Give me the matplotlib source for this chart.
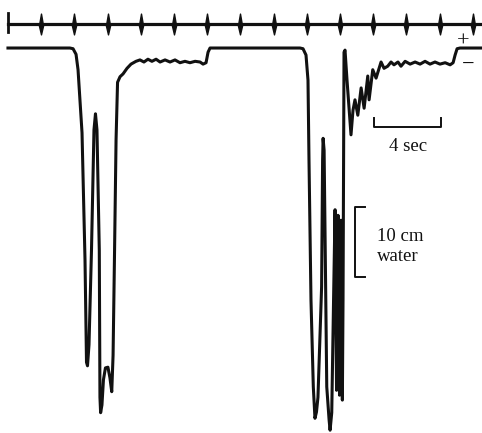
import numpy as np
import matplotlib
matplotlib.use("Agg")
import matplotlib.pyplot as plt
from matplotlib.path import Path

# pressure trace, time in s, pressure in cm water (0 = resting level)
t1 = [0, 3.73, 3.92, 4.10, 4.22, 4.46, 4.64, 4.73, 4.79, 4.88, 5.03, 5.18, 5.27, 5.36,
      5.50, 5.54, 5.58, 5.66, 5.75, 5.87, 6.02, 6.14, 6.25, 6.33, 6.42, 6.51, 6.60, 6.75,
      6.93, 7.17, 7.41, 7.71, 7.95, 8.19, 8.43, 8.67, 8.92, 9.16, 9.46, 9.76, 10.06, 10.36,
      10.66, 10.96, 11.27, 11.57, 11.75, 11.93, 12.05, 12.17]
p1 = [0, 0, -0.1, -0.9, -3.1, -12.1, -30.3, -44.9, -45.4, -42.4, -28.9, -11.7, -9.4, -11.7,
      -28.9, -49.9, -52.1, -51.0, -47.4, -45.7, -45.6, -47.1, -49.1, -43.9, -28.9, -13.1, -4.9, -4.1,
      -3.7, -2.9, -2.3, -1.9, -1.7, -2.0, -1.6, -1.9, -1.6, -2.0, -1.7, -2.0, -1.7, -2.1,
      -1.9, -2.1, -1.9, -2.0, -2.3, -2.1, -0.6, 0]

t2 = [17.59, 17.77, 17.95, 18.07, 18.13, 18.25, 18.39, 18.49, 18.58, 18.67, 18.89, 18.95, 18.98,
      19.04, 19.20, 19.34, 19.40, 19.50, 19.61, 19.70, 19.79, 19.88, 19.97, 20.06, 20.14, 20.18,
      20.24, 20.30, 20.42, 20.66, 20.78, 20.90, 21.07, 21.27, 21.45, 21.67, 21.75, 21.97, 22.17,
      22.47, 22.65, 22.87, 23.07, 23.25, 23.49, 23.67, 23.92, 24.22, 24.52, 24.82, 25.12, 25.42,
      25.72, 26.02, 26.33, 26.63, 26.81, 26.93, 27.05, 27.23, 28.6]
p2 = [0, -0.1, -1.0, -4.6, -16, -36, -48.4, -52.9, -52, -49.9, -34.1, -16, -12.9,
      -14.6, -48.4, -53.1, -54.6, -52.1, -36, -23.1, -48.9, -23.9, -49.6, -24.6, -50.3, -36,
      -0.6, -0.3, -4.6, -12.4, -8.9, -7.4, -9.6, -5.7, -8.6, -4.0, -7.4, -3.1, -4.3,
      -2.0, -2.9, -2.6, -2.0, -2.4, -2.0, -2.6, -1.9, -2.3, -2.0, -2.3, -1.9, -2.3,
      -2.0, -2.3, -2.1, -2.4, -2.1, -1.0, -0.1, 0, 0]

time_marks = np.arange(2, 30, 2)   # s
timeline_level = 3.43
scale_sec = [22.07, 26.07]
scale_cm = [-22.7, -32.7]

fig = plt.figure(figsize=(4.82, 4.33), dpi=100)
ax = fig.add_axes([0, 0, 1, 1])
ax.set_xlim(-0.48, 28.55)
ax.set_ylim(-55, 6.86)
ax.axis("off")

blk = "#111111"
ax.plot(t1 + t2, p1 + p2, color=blk, lw=2.2, solid_joinstyle="round")

# time marker line
ax.plot([0, 29], [timeline_level] * 2, color=blk, lw=2.3)
ax.plot([0, 0], [2.3, 5.0], color=blk, lw=2.0)
spindle = Path([(0, -1), (0.2, -0.15), (0, 1), (-0.2, -0.15), (0, -1)],
               [Path.MOVETO, Path.LINETO, Path.LINETO, Path.LINETO, Path.CLOSEPOLY])
ax.plot(time_marks, [timeline_level] * len(time_marks), ls="none", marker=spindle,
        ms=15, color=blk, mec=blk)

# 4 sec bar
ax.plot([scale_sec[0], scale_sec[0], scale_sec[1], scale_sec[1]],
        [-10.0, -11.24, -11.24, -10.0], color=blk, lw=1.4)
ax.text(sum(scale_sec) / 2, -14.1, "4 sec", ha="center", va="center",
        family="Liberation Serif", fontsize=13.5, color=blk)

# 10 cm water bar
ax.plot([21.5, 20.9, 20.9, 21.5], [scale_cm[0], scale_cm[0], scale_cm[1], scale_cm[1]],
        color=blk, lw=1.4)
ax.text(22.25, -28.4, "10 cm\nwater", ha="left", va="center", linespacing=1.22,
        family="Liberation Serif", fontsize=13.5, color=blk)

ax.text(27.41, 0.86, "+", ha="center", va="center", family="Liberation Serif",
        fontsize=16, color=blk)
ax.text(27.71, -2.43, "\u2212", ha="center", va="center", family="Liberation Serif",
        fontsize=16, color=blk)

fig.savefig("out.png", dpi=100)
